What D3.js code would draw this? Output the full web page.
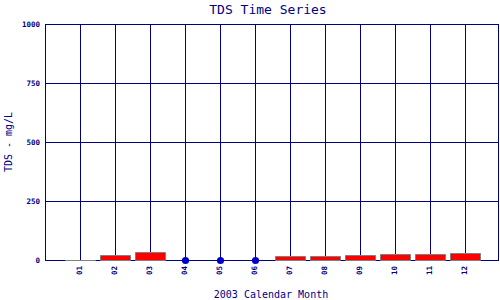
<!DOCTYPE html>
<html>
<head>
<meta charset="utf-8">
<script src="https://cdn.jsdelivr.net/npm/d3@7"></script>
<style>
  html, body { margin: 0; padding: 0; background: #fff; }
  svg { display: block; }
</style>
</head>
<body>
<svg id="chart" width="500" height="300"></svg>
<script>
// ---- data ----
const months = ["01","02","03","04","05","06","07","08","09","10","11","12"];
const barMonths = ["01","02","03","07","08","09","10","11","12"];
const barValues = [0, 21, 34, 17, 17, 21, 25, 25, 30];
const markerMonths = ["04","05","06"];
const markerValues = [0, 0, 0];
const yTicks = [0, 250, 500, 750, 1000];
const titleText = "TDS Time Series";
const xLabelText = "2003 Calendar Month";
const yLabelText = "TDS - mg/L";

// ---- layout ----
const navy = "#000080";
const svg = d3.select("#chart");
const x = d3.scaleLinear().domain([0, 13]).range([45, 500]);
const y = d3.scaleLinear().domain([0, 1000]).range([260, 24]);
const mIdx = m => months.indexOf(m) + 1;
const px = v => Math.round(v) + 0.5;

const mono = "'DejaVu Sans Mono', 'Liberation Mono', monospace";

// horizontal gridlines
svg.append("g").selectAll("line").data(yTicks).join("line")
  .attr("x1", 45).attr("x2", 499)
  .attr("y1", d => px(y(d))).attr("y2", d => px(y(d)))
  .attr("stroke", navy).attr("stroke-width", 1);

// vertical gridlines
svg.append("g").selectAll("line").data(d3.range(0, 14)).join("line")
  .attr("x1", d => d === 13 ? 498.5 : px(x(d)))
  .attr("x2", d => d === 13 ? 498.5 : px(x(d)))
  .attr("y1", px(y(1000))).attr("y2", px(y(0)))
  .attr("stroke", navy).attr("stroke-width", 1);

// y tick labels
svg.append("g").selectAll("text").data(yTicks).join("text")
  .attr("x", 40).attr("y", d => y(d) + 3)
  .attr("text-anchor", "end")
  .attr("font-family", mono).attr("font-size", 7.5).attr("font-weight", "bold")
  .attr("fill", navy)
  .text(d => d);

// x tick labels (rotated)
svg.append("g").selectAll("text").data(months).join("text")
  .attr("transform", d => `translate(${x(mIdx(d)) + 1.5},266) rotate(-90)`)
  .attr("text-anchor", "end")
  .attr("font-family", mono).attr("font-size", 7.5).attr("font-weight", "bold")
  .attr("fill", navy)
  .text(d => d);

// bars
const bars = barMonths.map((m, i) => ({ m, v: barValues[i] }));
svg.append("g").selectAll("path").data(bars).join("path")
  .attr("d", d => {
    const cx = x(mIdx(d.m));
    const x0 = cx - 14.5, x1 = cx + 15.5;
    const yt = px(y(d.v)), yb = px(y(0));
    return `M${x0},${yb}V${yt}H${x1}V${yb}Z`;
  })
  .attr("fill", "#ff0000")
  .attr("stroke", "#808080").attr("stroke-width", 1);

// markers
const marks = markerMonths.map((m, i) => ({ m, v: markerValues[i] }));
svg.append("g").selectAll("circle").data(marks).join("circle")
  .attr("cx", d => x(mIdx(d.m)) + 0.5)
  .attr("cy", d => y(d.v) + 0.5)
  .attr("r", 3.6)
  .attr("fill", "#0000cc");

// title
svg.append("text")
  .attr("x", 268).attr("y", 14)
  .attr("text-anchor", "middle")
  .attr("font-family", mono).attr("font-size", 13)
  .attr("fill", navy)
  .text(titleText);

// x label
svg.append("text")
  .attr("x", 271).attr("y", 298)
  .attr("text-anchor", "middle")
  .attr("font-family", mono).attr("font-size", 10)
  .attr("fill", navy)
  .text(xLabelText);

// y label
svg.append("text")
  .attr("transform", "translate(12,142) rotate(-90)")
  .attr("text-anchor", "middle")
  .attr("font-family", mono).attr("font-size", 10)
  .attr("fill", navy)
  .text(yLabelText);
</script>
</body>
</html>
